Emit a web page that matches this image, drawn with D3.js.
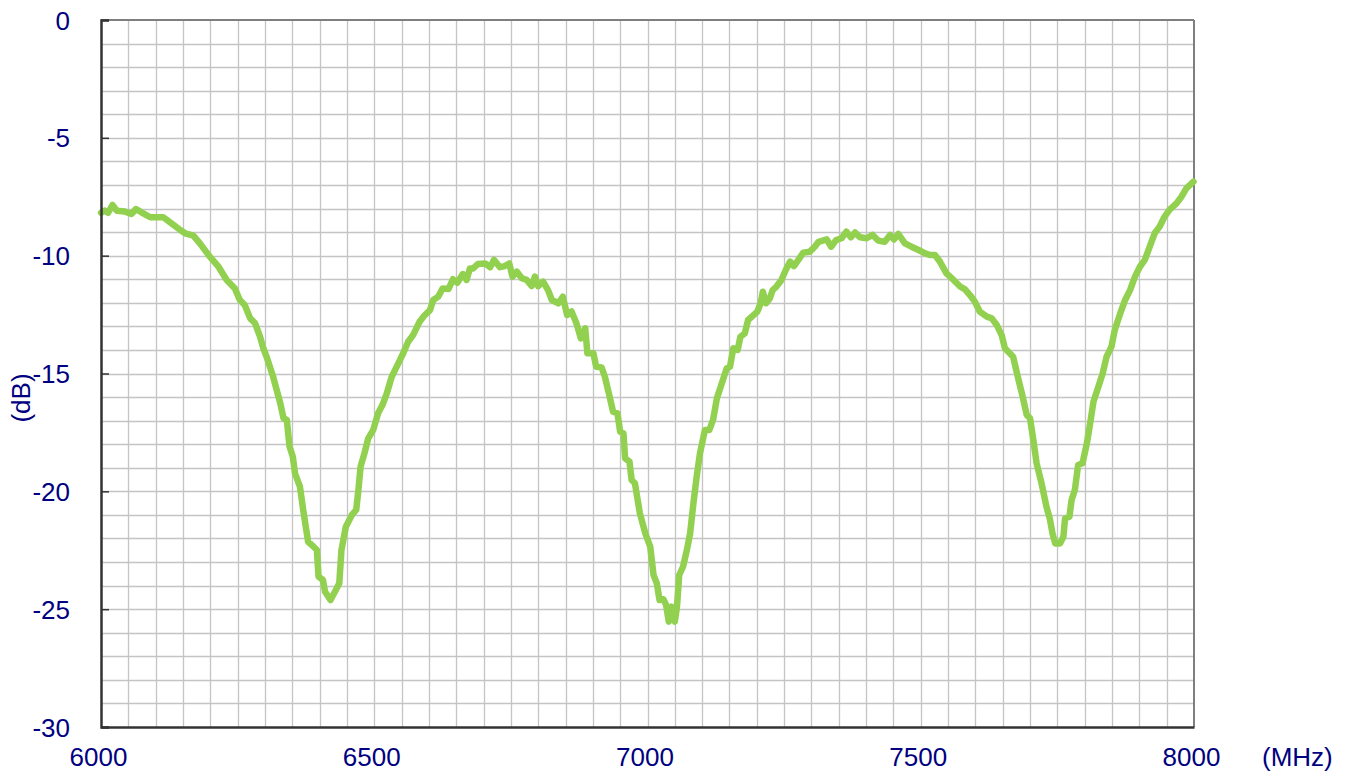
<!DOCTYPE html>
<html>
<head>
<meta charset="utf-8">
<script src="https://cdn.jsdelivr.net/npm/d3@7"></script>
<style>
  html, body { margin: 0; padding: 0; background: #ffffff; }
  svg { display: block; }
</style>
</head>
<body>
<svg id="chart" width="1353" height="772"></svg>
<script>
// ---- data ----
const freqMHz = [
  6000,6007,6013,6021,6029,6044,6056,6064,6074,6090,6114,6129,6145,6154,6169,6181,6199,6215,6230,6245,
  6254,6263,6273,6282,6291,6297,6303,6315,6328,6334,6340,6345,6351,6355,6364,6370,6379,6389,6395,6398,
  6406,6410,6420,6428,6436,6440,6448,6459,6467,6471,6475,6482,6489,6498,6507,6515,6523,6532,6544,6553,
  6562,6571,6583,6591,6602,6608,6617,6625,6636,6644,6652,6662,6669,6675,6681,6690,6703,6712,6719,6730,
  6739,6747,6753,6761,6770,6779,6788,6794,6800,6809,6818,6825,6837,6845,6853,6861,6870,6878,6886,6890,
  6901,6906,6916,6922,6930,6937,6945,6950,6956,6959,6967,6971,6977,6986,6996,7005,7011,7017,7022,7029,
  7034,7039,7044,7050,7054,7058,7065,7072,7078,7084,7090,7096,7105,7113,7120,7127,7133,7139,7145,7151,
  7157,7165,7170,7178,7184,7194,7201,7207,7211,7217,7224,7229,7236,7245,7253,7261,7268,7276,7285,7297,
  7306,7313,7328,7336,7345,7355,7364,7372,7380,7389,7401,7412,7422,7434,7444,7451,7459,7471,7483,7496,
  7508,7517,7526,7535,7547,7560,7572,7581,7590,7599,7608,7621,7630,7639,7648,7654,7669,7679,7685,7694,
  7700,7706,7712,7721,7730,7736,7741,7746,7755,7761,7764,7772,7776,7782,7788,7796,7804,7810,7816,7825,
  7833,7840,7849,7855,7865,7874,7883,7892,7901,7910,7919,7928,7937,7946,7955,7968,7977,7986,7999
];
const lossDB = [
  -8.18,-8.09,-8.18,-7.85,-8.09,-8.13,-8.23,-8.02,-8.16,-8.37,-8.37,-8.63,-8.91,-9.05,-9.15,-9.48,-10.04,-10.47,-11.03,-11.39,
  -11.88,-12.09,-12.66,-12.87,-13.44,-13.93,-14.29,-15.14,-16.26,-16.90,-16.97,-18.10,-18.53,-19.24,-19.80,-20.79,-22.14,-22.35,-22.49,-23.62,
  -23.76,-24.26,-24.61,-24.26,-23.90,-22.49,-21.50,-21.00,-20.79,-19.94,-18.95,-18.39,-17.75,-17.40,-16.69,-16.34,-15.84,-15.14,-14.57,-14.14,
  -13.65,-13.37,-12.80,-12.56,-12.31,-11.88,-11.74,-11.39,-11.41,-11.00,-11.15,-10.78,-11.03,-10.54,-10.54,-10.35,-10.33,-10.49,-10.18,-10.49,
  -10.44,-10.33,-10.89,-10.68,-10.96,-11.03,-11.29,-10.89,-11.29,-11.10,-11.46,-11.88,-12.02,-11.74,-12.52,-12.37,-12.87,-13.51,-13.08,-14.14,
  -14.14,-14.71,-14.74,-15.14,-15.91,-16.62,-16.69,-17.47,-17.54,-18.60,-18.74,-19.52,-19.66,-20.93,-21.78,-22.35,-23.55,-23.90,-24.61,-24.58,
  -24.82,-25.53,-24.89,-25.53,-24.89,-23.55,-23.20,-22.49,-21.78,-20.51,-19.38,-18.39,-17.40,-17.40,-16.97,-16.05,-15.63,-15.20,-14.78,-14.71,
  -13.93,-14.00,-13.44,-13.30,-12.73,-12.52,-12.37,-12.02,-11.53,-12.02,-11.81,-11.46,-11.31,-11.03,-10.61,-10.25,-10.44,-10.18,-9.87,-9.83,
  -9.62,-9.41,-9.31,-9.62,-9.34,-9.26,-8.98,-9.22,-9.02,-9.22,-9.26,-9.12,-9.36,-9.41,-9.12,-9.31,-9.08,-9.48,-9.62,-9.76,
  -9.90,-9.97,-9.97,-10.25,-10.75,-11.03,-11.31,-11.43,-11.67,-11.95,-12.37,-12.59,-12.66,-12.94,-13.37,-13.93,-14.29,-15.28,-15.84,-16.76,
  -16.90,-17.82,-18.81,-19.66,-20.65,-21.15,-21.78,-22.21,-22.21,-21.93,-21.15,-21.08,-20.37,-19.94,-18.88,-18.81,-17.96,-17.11,-16.20,-15.56,
  -14.99,-14.29,-13.86,-13.15,-12.45,-11.88,-11.46,-10.89,-10.47,-10.18,-9.62,-9.05,-8.77,-8.35,-8.06,-7.78,-7.50,-7.14,-6.86
];
const xTickValues = [6000, 6500, 7000, 7500, 8000];
const yTickValues = [0, -5, -10, -15, -20, -25, -30];
const xUnitLabel = "(MHz)";
const yUnitLabel = "(dB)";

(function () {
  // ---- layout ----
  const svg = d3.select("#chart");
  const pLeft = 101, pRight = 1194, pTop = 20, pBottom = 727;
  const textColor = "#000080";
  const fontFam = "Arial, 'Liberation Sans', sans-serif";
  const fontSize = 26;

  const x = d3.scaleLinear().domain([6000, 8000]).range([pLeft, pRight]);
  const y = d3.scaleLinear().domain([-30, 0]).range([pBottom, pTop]);

  // grid
  const grid = svg.append("g");
  grid.selectAll("line.v").data(d3.range(6050, 8000, 50)).enter().append("line")
    .attr("class", "v")
    .attr("x1", d => Math.round(x(d)) + 0.5).attr("x2", d => Math.round(x(d)) + 0.5)
    .attr("y1", pTop).attr("y2", pBottom)
    .attr("stroke", "#c4c4c4").attr("stroke-width", 1.3);
  grid.selectAll("line.h").data(d3.range(-29, 0, 1)).enter().append("line")
    .attr("class", "h")
    .attr("y1", d => Math.round(y(d)) + 0.5).attr("y2", d => Math.round(y(d)) + 0.5)
    .attr("x1", pLeft).attr("x2", pRight)
    .attr("stroke", "#c4c4c4").attr("stroke-width", 1.3);

  // top and right border
  svg.append("line").attr("x1", pLeft).attr("x2", pRight).attr("y1", pTop).attr("y2", pTop)
    .attr("stroke", "#7f7f7f").attr("stroke-width", 2);
  svg.append("line").attr("x1", pRight).attr("x2", pRight).attr("y1", pTop).attr("y2", pBottom)
    .attr("stroke", "#7f7f7f").attr("stroke-width", 2);

  // curve
  const line = d3.line().x((d, i) => x(freqMHz[i])).y(d => y(d)).curve(d3.curveLinear);
  svg.append("path").datum(lossDB)
    .attr("d", line)
    .attr("fill", "none")
    .attr("stroke", "#92d050")
    .attr("stroke-width", 6.5)
    .attr("stroke-linejoin", "round")
    .attr("stroke-linecap", "round");

  // y axis
  const yAxis = d3.axisRight(y).tickValues(yTickValues).tickSize(8).tickFormat(d => String(d));
  const yg = svg.append("g").attr("transform", `translate(${pLeft},0)`).call(yAxis);
  yg.select(".domain").attr("stroke", "#333").attr("stroke-width", 2.5);
  yg.selectAll(".tick line").attr("stroke", "#333").attr("stroke-width", 1.5);
  yg.selectAll(".tick text")
    .attr("x", -31).attr("dy", "0.35em")
    .attr("text-anchor", "end")
    .attr("fill", textColor).attr("font-family", fontFam).attr("font-size", fontSize);

  // x axis
  const xAxis = d3.axisBottom(x).tickValues(xTickValues).tickSize(0).tickFormat(d => String(d));
  const xg = svg.append("g").attr("transform", `translate(0,${pBottom})`).call(xAxis);
  xg.select(".domain").attr("stroke", "#333").attr("stroke-width", 2.5);
  xg.selectAll(".tick text")
    .attr("y", 39).attr("dy", 0).attr("dx", -3)
    .attr("fill", textColor).attr("font-family", fontFam).attr("font-size", fontSize);

  // unit labels
  svg.append("text").attr("x", 1262).attr("y", 766)
    .attr("fill", textColor).attr("font-family", fontFam).attr("font-size", fontSize)
    .text(xUnitLabel);
  svg.append("text")
    .attr("transform", "translate(30,398) rotate(-90)")
    .attr("text-anchor", "middle")
    .attr("fill", textColor).attr("font-family", fontFam).attr("font-size", fontSize)
    .text(yUnitLabel);
})();
</script>
</body>
</html>
